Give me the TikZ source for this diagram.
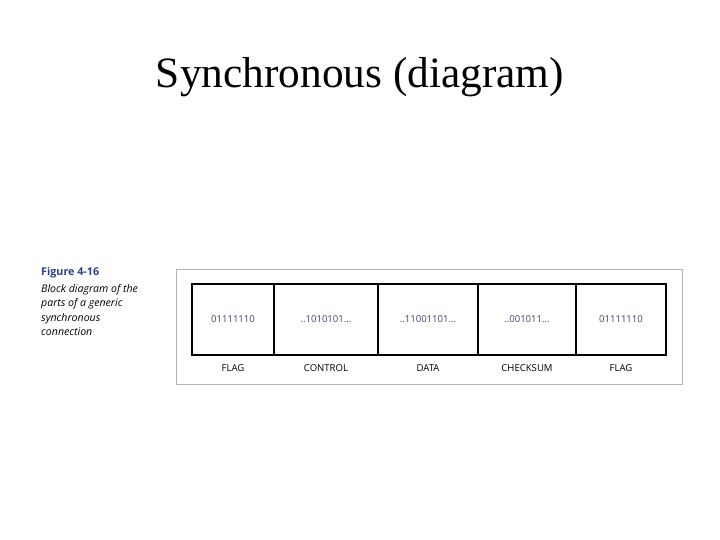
\documentclass[tikz,border=0pt]{standalone}
\usepackage{fontspec}
\setmainfont{Liberation Serif}
\newfontfamily\capfont{Open Sans}
\usepackage{xcolor}
\usetikzlibrary{positioning}
\definecolor{frame-grey}{HTML}{B4B4B4}
\definecolor{bits-blue}{HTML}{3C4170}
\definecolor{fig-blue}{HTML}{2B3F86}

\begin{document}
\begin{tikzpicture}[x=1bp, y=-1bp,
      every node/.style={font=\capfont\fontsize{9.6}{11}\selectfont},
      field/.style={draw=black, line width=1.1pt, minimum height=71bp, inner sep=0pt, outer sep=0pt}]
    \useasboundingbox (0,0) rectangle (720,540);
    % ---- Title
    \node[font=\fontsize{43.5}{48}\selectfont] (title) at (360,77) {Synchronous (diagram)};
    % ---- Caption
    \node[anchor=north west, align=left, inner sep=0pt, text=fig-blue,
          font=\capfont\bfseries\fontsize{10.8}{12}\selectfont] (fignum) at (41,267) {Figure 4-16};
    \node[anchor=north west, align=left, inner sep=0pt,
          font=\capfont\itshape\fontsize{10.6}{14.6}\selectfont] (figtext) at (41,284)
          {Block diagram of the\\parts of a generic\\synchronous\\connection};
    % ---- Outer frame
    \draw[draw=frame-grey, line width=0.8pt] (176,269) rectangle (682,384);
    % ---- Fields
    \node[field, minimum width=82bp,  anchor=north west] (flagA) at (192,284) {};
    \node[field, minimum width=104bp, anchor=north west] (ctrl)  at (flagA.north east) {};
    \node[field, minimum width=100bp, anchor=north west] (data)  at (ctrl.north east) {};
    \node[field, minimum width=98bp,  anchor=north west] (csum)  at (data.north east) {};
    \node[field, minimum width=90bp,  anchor=north west] (flagB) at (csum.north east) {};
    \node[text=bits-blue] (bitsA) at (flagA) {01111110};
    \node[text=bits-blue] (bitsB) at (ctrl)  {..1010101...};
    \node[text=bits-blue] (bitsC) at (data)  {..11001101...};
    \node[text=bits-blue] (bitsD) at (csum)  {..001011...};
    \node[text=bits-blue] (bitsE) at (flagB) {01111110};
    \node[below=6bp of flagA.south] (lblA) {FLAG};
    \node[below=6bp of ctrl.south]  (lblB) {CONTROL};
    \node[below=6bp of data.south]  (lblC) {DATA};
    \node[below=6bp of csum.south]  (lblD) {CHECKSUM};
    \node[below=6bp of flagB.south] (lblE) {FLAG};
\end{tikzpicture}
\end{document}
